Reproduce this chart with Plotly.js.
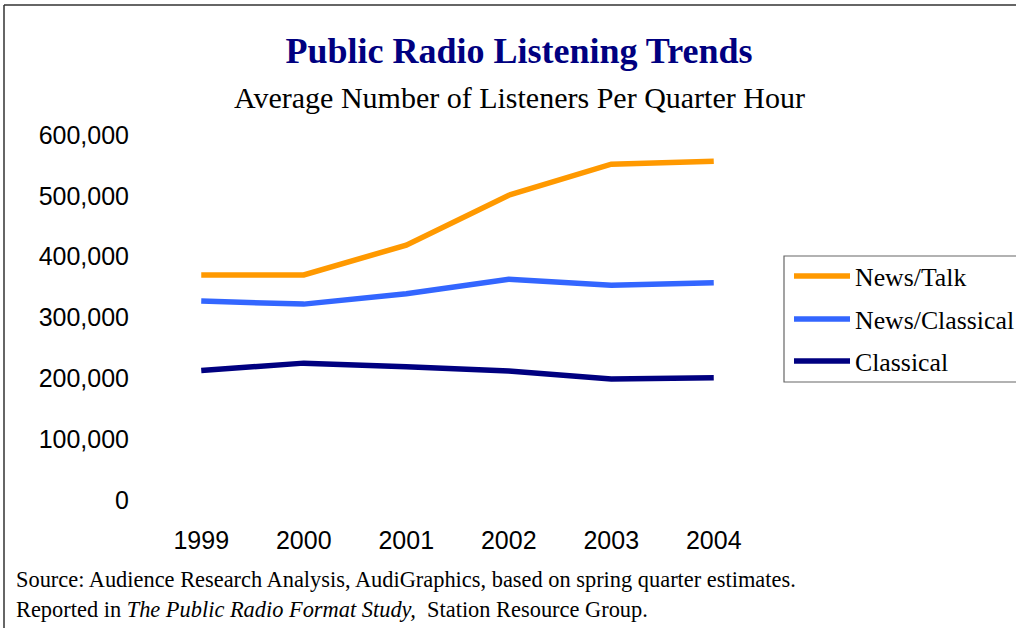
<!DOCTYPE html>
<html>
<head>
<meta charset="utf-8">
<script src="https://cdn.plot.ly/plotly-3.0.1.min.js"></script>
<style>html,body{margin:0;padding:0;background:#fff;}#chart{width:1016px;height:628px;}</style>
</head>
<body>
<div id="chart"></div>
<script>
const years = ["1999", "2000", "2001", "2002", "2003", "2004"];
const newsTalk = [370000, 370000, 419000, 501000, 552000, 557000];
const newsClassical = [327000, 322000, 339000, 363000, 353000, 357000];
const classical = [213000, 225000, 219000, 212000, 199000, 201000];
const seriesNames = ["News/Talk", "News/Classical", "Classical"];
const seriesColors = ["#FF9900", "#3366FF", "#000080"];
const yTickVals = [0, 100000, 200000, 300000, 400000, 500000, 600000];
const yTickText = ["0", "100,000", "200,000", "300,000", "400,000", "500,000", "600,000"];

const W = 1016, H = 628;
const L = 150, R = 765, T = 135, B = 500;
const px = x => (x - L) / (R - L);
const py = y => (B - y) / (B - T);

const seriesValues = [newsTalk, newsClassical, classical];
const data = seriesNames.map((name, i) => ({
  type: 'scatter', mode: 'lines', name: name, x: years, y: seriesValues[i],
  line: {color: seriesColors[i], width: 5.5}, hoverinfo: 'skip'
}));

const serif = 'Liberation Serif, Times New Roman, serif';
const sans = 'Liberation Sans, Arial, sans-serif';

const shapes = [
  {type: 'line', xref: 'paper', yref: 'paper', x0: px(4), x1: px(4), y0: py(5), y1: py(640), line: {color: '#333', width: 1.5}},
  {type: 'line', xref: 'paper', yref: 'paper', x0: px(4), x1: px(1030), y0: py(5), y1: py(5), line: {color: '#333', width: 1.5}},
  {type: 'rect', xref: 'paper', yref: 'paper', x0: px(784), x1: px(1040), y0: py(382), y1: py(256), line: {color: '#666', width: 1.2}, fillcolor: '#fff'}
];
const annotations = [
  {text: 'Average Number of Listeners Per Quarter Hour', xref: 'paper', yref: 'paper', x: px(519), y: py(97),
   xanchor: 'center', yanchor: 'middle', showarrow: false, font: {family: serif, size: 30, color: '#000'}},
  {text: 'Source: Audience Research Analysis, AudiGraphics, based on spring quarter estimates.', xref: 'paper', yref: 'paper',
   x: px(14), y: py(579), xanchor: 'left', yanchor: 'middle', showarrow: false, font: {family: serif, size: 22.4, color: '#000'}},
  {text: 'Reported in <i>The Public Radio Format Study,</i>  Station Resource Group.', xref: 'paper', yref: 'paper',
   x: px(14), y: py(609), xanchor: 'left', yanchor: 'middle', showarrow: false, font: {family: serif, size: 22.4, color: '#000'}}
];
const rowY = [276, 319, 361];
seriesNames.forEach((name, i) => {
  shapes.push({type: 'line', xref: 'paper', yref: 'paper', x0: px(794), x1: px(850), y0: py(rowY[i]), y1: py(rowY[i]),
               line: {color: seriesColors[i], width: 5.5}});
  annotations.push({text: name, xref: 'paper', yref: 'paper', x: px(853), y: py(rowY[i] + 1), xanchor: 'left', yanchor: 'middle',
                    showarrow: false, font: {family: serif, size: 25.8, color: '#000'}});
});

const layout = {
  width: W, height: H,
  margin: {l: L, r: W - R, t: T, b: H - B, pad: 0},
  paper_bgcolor: '#fff', plot_bgcolor: '#fff',
  showlegend: false,
  title: {text: '<b>Public Radio Listening Trends</b>', font: {family: serif, size: 36, color: '#000080'},
          x: 519 / W, xanchor: 'center', y: 1 - 50 / H, yanchor: 'middle', xref: 'container', yref: 'container'},
  xaxis: {type: 'category', range: [-0.5, 5.5], showgrid: false, zeroline: false, showline: false, ticks: '',
          tickfont: {family: sans, size: 25, color: '#000'}, ticklabelstandoff: 23, fixedrange: true},
  yaxis: {range: [0, 600000], tickvals: yTickVals, ticktext: yTickText, showgrid: false, zeroline: false,
          showline: false, ticks: '', tickfont: {family: sans, size: 25, color: '#000'}, ticklabelstandoff: 20, fixedrange: true},
  annotations: annotations,
  shapes: shapes
};

Plotly.newPlot('chart', data, layout, {displayModeBar: false, staticPlot: true});
</script>
</body>
</html>
